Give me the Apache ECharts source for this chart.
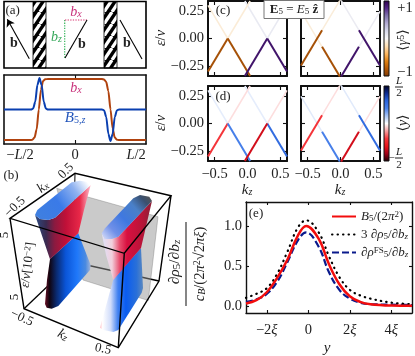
<!DOCTYPE html>
<html><head><meta charset="utf-8">
<style>html,body{margin:0;padding:0;background:#fff}#c{width:415px;height:356px}</style>
<script src="https://cdn.jsdelivr.net/npm/echarts@6/dist/echarts.min.js"></script>
</head><body><div id="c"></div>
<script>
const F = '"Liberation Serif","DejaVu Serif",serif';
// ---------- panel (a), lower plot
const wallX = [-1,-0.62,-0.6,-0.57,-0.54,-0.51,-0.48,-0.45,-0.42,-0.38,0,0.38,0.41,0.44,0.47,0.5,0.53,0.56,0.59,0.62,1];
const bxProfile = [-1,-1,-0.99,-0.92,-0.65,0,0.65,0.93,0.99,1,1,1,0.98,0.9,0.6,0,-0.62,-0.92,-0.99,-1,-1];
const b5X = [-1,-0.62,-0.59,-0.56,-0.53,-0.5,-0.47,-0.44,-0.41,-0.38,0,0.38,0.41,0.44,0.47,0.5,0.53,0.56,0.59,0.62,1];
const b5Profile = [0,0,0.03,0.25,0.8,1.03,0.8,0.25,0.03,0,0,0,-0.03,-0.25,-0.8,-1.03,-0.8,-0.25,-0.03,0,0];
// ---------- panels (c),(d): band segments as [[kz,eps],[kz,eps]]
const bandsGapless = [
 [[-0.6,-0.3],[-0.3,0]], [[-0.3,0],[0.04,-0.34]], [[-0.6,0.3],[-0.3,0]], [[-0.3,0],[0.04,0.34]],
 [[-0.04,0.34],[0.3,0]], [[0.3,0],[0.6,0.3]], [[-0.04,-0.34],[0.3,0]], [[0.3,0],[0.6,-0.3]]];
const bandsGapped = [
 [[-0.6,-0.245],[-0.28,0.075]], [[-0.28,-0.075],[-0.01,-0.345]], [[-0.28,0.075],[0,0.355]], [[-0.6,0.245],[-0.28,-0.075]],
 [[0.01,-0.345],[0.28,-0.075]], [[0.28,0.075],[0.6,-0.245]], [[0,0.355],[0.28,0.075]], [[0.28,-0.075],[0.6,0.245]]];
const gammaGapless = [-0.85,-0.85,-0.1,-0.1,0.09,0.09,0.9,0.9];
const gammaGapped  = [-0.85,-0.85,-0.09,-0.09,0.9,0.9,0.08,0.08];
const yMeanGaplessD = [-0.42,0.42,0.06,-0.07,0.06,-0.07,-0.66,0.55];
const yMeanGappedD  = [-0.42,0.42,-0.07,0.07,-0.66,0.55,0.07,-0.07];
const gammaColors = ['#7f3b08','#b35806','#e08214','#fdb863','#fee0b6','#f7f7f7','#d8daeb','#b2abd2','#8073ac','#542788','#2d004b'];
const yColors = ['#1a0006','#a00018','#e8141c','#f5383c','#f8a0a0','#ffffff','#a8c4f4','#4a82ea','#2a64dc','#0a2a90','#000020'];
// ---------- panel (e)
const yGrid = [-3,-2.5,-2,-1.5,-1,-0.5,-0.1,0.5,1,1.5,2,2.5,3,4,5];
const b5Curve = [0.03,0.07,0.17,0.35,0.58,0.88,1.0,0.84,0.52,0.27,0.12,0.05,0.02,0.003,0];
const rhoCurve = [0.10,0.15,0.22,0.40,0.68,0.98,1.07,0.92,0.62,0.36,0.20,0.13,0.09,0.04,0.02];
const rhoFsCurve = [0.05,0.08,0.15,0.30,0.55,0.82,0.92,0.74,0.42,0.20,0.09,0.04,0.02,0.015,0.01];
// ---------- schematic geometry
const TB=[75,173.3],TL=[10,218.3],TR=[171,195.7],TF=[124.3,253.3],BL=[24,308.7],BF=[118.3,347.7],BR=[159,281],BB=[73,262];
const grayPlane=[[56.7,188.3],[158,216.7],[148.3,300.5],[83,280]];
const capL=[[35,215],[37.3,210],[71.7,182.3],[80,180.7],[89.3,182.3],[90.7,185],[55,217.7],[48.3,220],[40,219]];
const faceL=[[35,215],[40,219],[48.3,220],[55,217.7],[90.7,185],[84,210],[78.3,233.3],[50,259.3]];
const coneL=[[50,259],[78.3,233.3],[84,248],[90.7,265],[90,270],[58.3,306],[51.7,308.7],[46.7,307.7],[45,304],[47,280]];
const capR=[[101.7,233.3],[105,228.3],[133.3,198.3],[140,195],[149.3,196.7],[152,201],[118.3,236.7],[111.7,239],[105,239]];
const faceR=[[101.7,233.3],[105,239],[111.7,239],[118.3,236.7],[152,201],[148,218],[141,248],[113.3,280],[106,255]];
const coneR=[[113.3,279.3],[141,248],[143,288],[141.7,292.7],[118.3,330],[113.3,332],[103.3,330],[100,327.7]];

const mix=(a,b,t)=>{const p=s=>[1,3,5].map(i=>parseInt(s.substr(i,2),16));const A=p(a),B=p(b);
 return 'rgb('+A.map((v,i)=>Math.round(v+(B[i]-v)*t)).join(',')+')';};
const scale=(cols,v)=>{const u=(v+1)/2*(cols.length-1),i=Math.min(cols.length-2,Math.floor(u));return mix(cols[i],cols[i+1],u-i);};

const hatch=document.createElement('canvas');hatch.width=8;hatch.height=12;
(function(){const g=hatch.getContext('2d');g.fillStyle='#000';g.fillRect(0,0,8,12);g.strokeStyle='#fff';g.lineWidth=3.2;
 for(let k=-2;k<3;k++){g.beginPath();g.moveTo(k*8,12);g.lineTo((k+1)*8,0);g.stroke();}})();

const lin=(p0,p1,stops)=>new echarts.graphic.LinearGradient(p0[0],p0[1],p1[0],p1[1],
  stops.map((c,i)=>({offset:c[0],color:c[1]})),true);
const K='#000';
const sketch=[
 {p:[[33,1.5],[46,1.5],[46,68],[33,68]],fill:{image:hatch,repeat:'repeat'},stroke:K,w:0.8,close:1},
 {p:[[104,1.5],[117,1.5],[117,68],[104,68]],fill:{image:hatch,repeat:'repeat'},stroke:K,w:0.8,close:1},
 {p:[[4,1.5],[146,1.5],[146,68],[4,68]],stroke:K,w:1.6,close:1},
 {p:[[64.7,20],[64.7,58]],stroke:'#35b45a',w:1.2,dash:[1.3,1.3]},
 {p:[[65,20],[87,20]],stroke:'#d8306e',w:1.2,dash:[1.3,1.3]},
 {p:[[65,58],[87,20]],stroke:K,w:1.1},
 {p:[[120,20],[142,59]],stroke:K,w:1.1},
 // cube rear
 {p:[BL,BB],stroke:K,w:1.3},{p:[BR,BB],stroke:K,w:1.3},{p:[TB,BB],stroke:K,w:1.0},
 {p:grayPlane,fill:'rgba(150,150,150,0.5)',stroke:'rgba(110,110,110,0.6)',w:0.6,close:1},
 {p:coneL,fill:lin([45,0],[91,0],[[0,'#6a1025'],[0.1,'#100410'],[0.25,'#0a2a70'],[0.45,'#0a55d8'],[0.7,'#1f78fa'],[0.88,'#4a8ae0'],[1,'#a8b8d8']]),close:1},
 {p:faceL,fill:lin([35,0],[91,0],[[0,'#2d4a80'],[0.2,'#3a2a50'],[0.35,'#8a1a40'],[0.55,'#c01038'],[0.8,'#e82848'],[1,'#ffc0d0']]),close:1},
 {p:capL,fill:lin([40,217],[88,183],[[0,'#3f7fe0'],[0.4,'#3a7ae8'],[0.75,'#8fb2f0'],[1,'#ffffff']]),close:1},
 {p:coneR,fill:lin([100,0],[143,0],[[0,'#ffc0c8'],[0.06,'#ffffff'],[0.25,'#d0dcfa'],[0.42,'#3f80f0'],[0.6,'#0a5cf0'],[0.85,'#2a70d8'],[1,'#5a88c0']]),close:1},
 {p:faceR,fill:lin([102,0],[152,0],[[0,'#dde0f8'],[0.2,'#f2d0dc'],[0.35,'#e85070'],[0.5,'#d81040'],[0.8,'#b81438'],[1,'#8a2038']]),close:1},
 {p:capR,fill:lin([103,238],[150,196],[[0,'#d0d8f8'],[0.2,'#7090e8'],[0.45,'#3f78e0'],[0.7,'#4a80c8'],[0.88,'#3a5070'],[1,'#555555']]),close:1},
 // cube front
 {p:[TL,TB,TR,TF],stroke:K,w:1.4,close:1},{p:[TL,BL,BF,BR,TR],stroke:K,w:1.4},{p:[TF,BF],stroke:K,w:1.4}
];

// ---------- layout
const xAxes=[],yAxes=[],grids=[],series=[];
const labelStyle={fontFamily:F,fontSize:14.5,color:'#222'};
const rich=s=>{const b={fontFamily:F,fontSize:s};const sub=Math.round(s*0.68);return{
 n:{...b},i:{...b,fontStyle:'italic'},b:{...b,fontWeight:'bold'},
 s:{fontFamily:F,fontSize:sub,fontStyle:'italic',verticalAlign:'bottom'},
 u:{fontFamily:F,fontSize:sub,verticalAlign:'top'},r:{fontFamily:F,fontSize:sub,verticalAlign:'bottom'}};};
function addPlot(rect,x,y,o={}){
 grids.push({left:rect[0],top:rect[1],width:rect[2],height:rect[3],containLabel:false});
 const gi=grids.length-1,xi=xAxes.length,yi=yAxes.length,W=o.w||1.6;
 const line={show:true,onZero:false,lineStyle:{color:'#111',width:W}};
 const tick=(cv,show=true)=>({show,inside:true,length:o.tl||4,customValues:cv,lineStyle:{color:'#111',width:1.1}});
 xAxes.push({type:'value',gridIndex:gi,min:x.min,max:x.max,axisLine:line,splitLine:{show:false},axisTick:tick(x.ticks),
  axisLabel:{show:!!x.fmt,customValues:x.labels||x.ticks,formatter:x.fmt,margin:x.margin||5,hideOverlap:false,showMinLabel:true,showMaxLabel:true,...labelStyle,rich:rich(14.5)}});
 xAxes.push({type:'value',gridIndex:gi,position:'top',min:x.min,max:x.max,axisLine:line,splitLine:{show:false},axisTick:tick(x.ticks,true),axisLabel:{show:false}});
 yAxes.push({type:'value',gridIndex:gi,min:y.min,max:y.max,axisLine:line,splitLine:{show:false},axisTick:tick(y.ticks,!!y.ticks),
  axisLabel:{show:!!y.fmt,customValues:y.ticks,formatter:y.fmt,margin:y.margin||3,...labelStyle}});
 yAxes.push({type:'value',gridIndex:gi,position:'right',min:y.min,max:y.max,axisLine:line,splitLine:{show:false},axisTick:tick(y.ticks,!!y.ticks),axisLabel:{show:false}});
 return {xi,yi};
}
// overlay grid in canvas units for the schematic sketches
grids.push({left:0,top:0,width:415,height:356});
xAxes.push({type:'value',gridIndex:0,min:0,max:415,show:false});
yAxes.push({type:'value',gridIndex:0,min:0,max:356,inverse:true,show:false});
series.push({type:'custom',xAxisIndex:0,yAxisIndex:0,z:3,clip:false,silent:true,animation:false,
 coordinateSystem:'cartesian2d',data:sketch.map((_,i)=>[i,i]),
 renderItem:(params,api)=>{const d=sketch[params.dataIndex];const pts=d.p.map(q=>api.coord(q));
  return {type:d.close?'polygon':'polyline',z2:params.dataIndex,shape:{points:pts},
   style:{fill:d.fill||null,stroke:d.stroke||null,lineWidth:d.w||0,lineDash:d.dash||null}};}});
series.push({type:'line',xAxisIndex:0,yAxisIndex:0,data:[],z:4,silent:true,
 markLine:{silent:true,animation:false,symbol:['none','arrow'],symbolSize:7,label:{show:false},lineStyle:{color:'#000',type:'solid',width:1.1},
  data:[[{coord:[29.3,58.7]},{coord:[7.3,19.3]}]]}});

// panel (a) lower
const aAx=addPlot([4,75,142,69],
 {min:-1,max:1,ticks:[0],labels:[-0.775,0,0.86],fmt:v=>v<-0.5?'−{i|L}/2':(v>0.5?'{i|L}/2':'0'),margin:4},
 {min:-1.13,max:1.13},{});
const pair=(a,b)=>a.map((v,i)=>[v,b[i]]);
series.push({type:'line',xAxisIndex:aAx.xi,yAxisIndex:aAx.yi,data:pair(wallX,bxProfile),showSymbol:false,symbol:'none',smooth:0.25,smoothMonotone:'x',lineStyle:{color:'#b0420e',width:2}});
series.push({type:'line',xAxisIndex:aAx.xi,yAxisIndex:aAx.yi,data:pair(b5X,b5Profile),showSymbol:false,symbol:'none',smooth:0.25,smoothMonotone:'x',z:3,lineStyle:{color:'#0a3fb0',width:2}});

// panels (c),(d)
const kzAxis={min:-0.6,max:0.6,ticks:[-0.5,0,0.5]};
const kzLab={...kzAxis,fmt:v=>(v<0?'−':'')+Math.abs(v).toFixed(1),margin:6};
const epsAxis={min:-0.34,max:0.34,ticks:[-0.25,0,0.25]};
const epsLab={...epsAxis,fmt:v=>(v<0?'−':'')+Math.abs(v).toFixed(2),margin:4};
function bands(ax,segs,vals,cols){segs.forEach((s,i)=>series.push({type:'line',xAxisIndex:ax.xi,yAxisIndex:ax.yi,data:s,symbol:'none',
 z:2+Math.abs(vals[i]),lineStyle:{color:scale(cols,vals[i]),width:Math.abs(vals[i])>0.3?2:1.5}}));}
const opt2={w:2};
bands(addPlot([208,1,79,75],kzAxis,epsLab,opt2),bandsGapless,gammaGapless,gammaColors);
bands(addPlot([301,1,79,75],kzAxis,epsAxis,opt2),bandsGapped,gammaGapped,gammaColors);
bands(addPlot([208,86,79,75],kzLab,epsLab,opt2),bandsGapless,yMeanGaplessD,yColors);
bands(addPlot([301,86,79,75],kzLab,epsAxis,opt2),bandsGapped,yMeanGappedD,yColors);

// panel (e)
const eAx=addPlot([246,202,166,111],
 {min:-3,max:5,ticks:[-2,0,2,4],fmt:v=>v===0?'0':(v<0?'−':'')+Math.abs(v)+'{i|ξ}',margin:10},
 {min:-0.09,max:1.3,ticks:[0,0.5,1],fmt:v=>v.toFixed(1),margin:4},{w:1.4,tl:3});
const names=['B5','rho','rhoFS'];
series.push({name:names[2],type:'line',xAxisIndex:eAx.xi,yAxisIndex:eAx.yi,data:pair(yGrid,rhoFsCurve),symbol:'none',legendIcon:'none',smooth:0.4,z:3,lineStyle:{color:'#0a1a8c',width:2.2,type:[7,3]}});
series.push({name:names[1],type:'line',xAxisIndex:eAx.xi,yAxisIndex:eAx.yi,data:pair(yGrid,rhoCurve),symbol:'none',legendIcon:'none',smooth:0.4,z:4,lineStyle:{color:'#000',width:2.2,type:[0.5,5],cap:'round'}});
series.push({name:names[0],type:'line',xAxisIndex:eAx.xi,yAxisIndex:eAx.yi,data:pair(yGrid,b5Curve),symbol:'none',legendIcon:'none',smooth:0.4,z:5,lineStyle:{color:'#f20d0d',width:2.5}});
const legendText={B5:'{i|B}{r|5}/(2{i|π}{u|2})',rho:'3 {i|∂ρ}{r|5}/{i|∂b}{s|z}',rhoFS:'{i|∂ρ}{u|FS}{r|5}/{i|∂b}{s|z}'};

// text
const T=(x,y,text,size=14,o={})=>({type:'text',x,y,rotation:(o.rot||0)*Math.PI/180,z:100,silent:true,
 style:{text,rich:rich(size),fontFamily:F,fontSize:size,fill:o.color||'#222',align:o.align||'center',verticalAlign:'middle'}});
const vbar=(x,y,h,w,cols)=>({type:'rect',x,y,z:50,silent:true,shape:{width:w,height:h},
 style:{stroke:'#111',lineWidth:1,fill:new echarts.graphic.LinearGradient(0,1,0,0,cols.map((c,i)=>({offset:i/(cols.length-1),color:c})))}});
const hl=(x1,y1,x2,y2,w=1,c='#222')=>({type:'line',z:100,silent:true,shape:{x1,y1,x2,y2},style:{stroke:c,lineWidth:w}});
const graphic=[
 T(12.7,10.7,'(a)',13),T(14,43,'{b|b}',14),T(82,44,'{b|b}',14),T(127,43,'{b|b}',14),
 T(76,12.5,'{i|b}{s|x}',14,{color:'#c8307a'}),T(56.5,37,'{i|b}{s|z}',14,{color:'#35a85a'}),
 T(76,88,'{i|b}{s|x}',14,{color:'#c8307a'}),T(75,118,'{i|B}{r|5,}{s|z}',15,{color:'#2255bb'}),
 T(11,176,'(b)',13),T(15,207,'−0.5',13,{rot:45}),T(66,171,'0.5',13,{rot:45}),T(43,187,'{i|k}{s|x}',14,{rot:40}),
 T(5,235,'5',13,{rot:90}),T(15,297,'5',13,{rot:90}),T(28,265,'{i|ε}/{i|v}[10{u|−2}]',13,{rot:83}),
 T(22,318,'−0.5',13,{rot:-25}),T(63,335,'{i|k}{s|z}',14,{rot:-28}),T(103,349,'0.5',13,{rot:-12}),
 T(223,11,'(c)',13),T(223,97,'(d)',13),T(256,214,'(e)',13),
 T(161,38,'{i|ε}/{i|v}',14.5,{rot:90}),T(161,123,'{i|ε}/{i|v}',14.5,{rot:90}),
 T(247,190,'{i|k}{s|z}',15),T(340,190,'{i|k}{s|z}',15),
 T(327,348,'{i|y}',15),
 {type:'rect',x:264,y:0.5,z:90,silent:true,shape:{width:60,height:18},style:{fill:'#fff',stroke:'#777',lineWidth:1}},
 T(294,9.5,'{b|E}{r|5} = {i|E}{r|5} {b|ẑ}',13),
 vbar(384,1,75,5,gammaColors),vbar(384,86,75,5,yColors),
 T(405,8,'+1',14.5),T(405,72,'−1',14.5),T(403,40,'⟨{i|γ}{u|5}⟩',14,{rot:90}),
 T(403,123,'⟨{i|y}⟩',14,{rot:90}),
 T(399,81.5,'{i|L}',11),hl(395,87,403,87),T(399,93.5,'2',11),
 T(399,152.5,'{i|L}',11),hl(395,158,403,158),T(399,165,'2',11),T(391.5,158,'−',11),
 T(175,262,'{i|∂ρ}{r|5}/{i|∂b}{s|z}',15.5,{rot:90}),hl(186,222,186,306,1.1),
 T(200,264,'{i|c}{s|B}/(2{i|π}{u|2}√2{i|πξ})',14.5,{rot:90})
];

const chart=echarts.init(document.getElementById('c'),null,{renderer:'canvas',width:415,height:356});
chart.setOption({animation:false,backgroundColor:'#fff',grid:grids,xAxis:xAxes,yAxis:yAxes,series,graphic:{elements:graphic},
 legend:{left:326,top:205,orient:'vertical',itemGap:5,itemWidth:24,itemHeight:14,data:names,
  itemStyle:{opacity:0,color:'transparent',borderWidth:0},
  formatter:n=>legendText[n],textStyle:{fontFamily:F,fontSize:13,color:'#222',rich:rich(13)}}});
</script></body></html>
